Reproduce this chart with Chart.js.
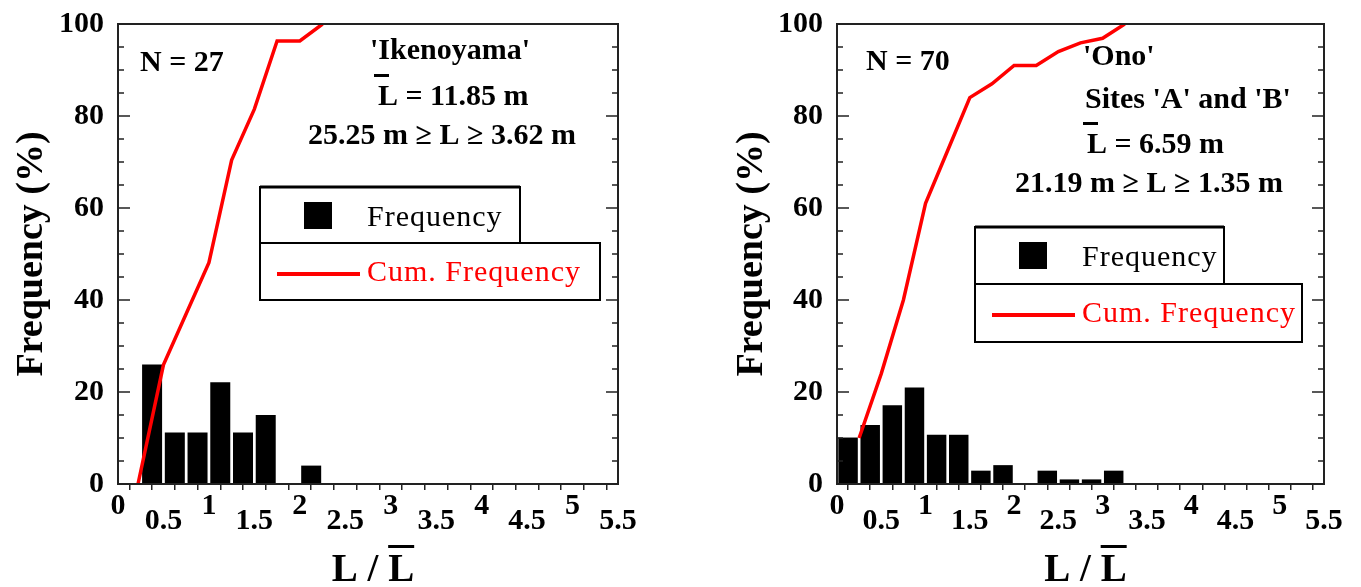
<!DOCTYPE html>
<html>
<head>
<meta charset="utf-8">
<script src="https://cdn.jsdelivr.net/npm/chart.js@4.4.0/dist/chart.umd.min.js"></script>
<style>
body { margin: 0; background: #fff; width: 1361px; height: 587px; overflow: hidden; position: relative; }
.wrap { position: absolute; top: 0; height: 587px; }
#wrapA { left: 0; width: 680px; }
#wrapB { left: 720px; width: 641px; }
</style>
</head>
<body>
<div class="wrap" id="wrapA"><canvas id="chartA"></canvas></div>
<div class="wrap" id="wrapB"><canvas id="chartB"></canvas></div>
<script>
// tick labels of the L / Lbar axis
const xTickLabels = ['0', '0.5', '1', '1.5', '2', '2.5', '3', '3.5', '4', '4.5', '5', '5.5'];

// 'Ikenoyama' - bin centres (bin width 0.25) and frequency (%)
const ikeBins = [0.375, 0.625, 0.875, 1.125, 1.375, 1.625, 2.125];
const ikeFreq = [26.0, 11.2, 11.2, 22.1, 11.2, 15.0, 4.0];
// cumulative frequency (%)
const ikeCumX = [0.22, 0.5, 0.75, 1.0, 1.25, 1.5, 1.75, 2.0, 2.25];
const ikeCumY = [0, 25.9, 37.0, 48.1, 70.4, 81.5, 96.3, 96.3, 100];

// 'Ono' sites A and B
const onoBins = [0.125, 0.375, 0.625, 0.875, 1.125, 1.375, 1.625, 1.875, 2.375, 2.625, 2.875, 3.125];
const onoFreq = [10.1, 12.8, 17.1, 21.0, 10.7, 10.7, 2.9, 4.1, 2.9, 1.0, 1.0, 2.9];
const onoCumX = [0.25, 0.5, 0.75, 1.0, 1.25, 1.5, 1.75, 2.0, 2.25, 2.5, 2.75, 3.0, 3.25];
const onoCumY = [10, 24, 40, 61, 72.5, 84, 87, 91, 91, 94, 95.9, 96.9, 100];

const SERIF = '"Liberation Serif", "Times New Roman", serif';

// texts inside each plot (canvas coordinates)
const ikeNotes = [
    { text: 'N = 27', x: 140, y: 63 },
    { text: "'Ikenoyama'", x: 370, y: 51 },
    { text: 'L = 11.85 m', x: 378, y: 97, bar: true },
    { text: '25.25 m \u2265 L \u2265 3.62 m', x: 308, y: 136 }
];
const onoNotes = [
    { text: 'N = 70', x: 146, y: 62 },
    { text: "'Ono'", x: 363, y: 57 },
    { text: "Sites 'A' and 'B'", x: 365, y: 100 },
    { text: 'L = 6.59 m', x: 367, y: 145, bar: true },
    { text: '21.19 m \u2265 L \u2265 1.35 m', x: 295, y: 184 }
];
const ikeLegend = { x: 260, y: 187, w1: 260, w2: 340, h: 56 };
const onoLegend = { x: 255, y: 227, w1: 249, w2: 327, h: 57 };

function decorPlugin(notes, lg) {
    return {
        id: 'decor',
        afterDraw(chart) {
            const ctx = chart.ctx;
            const a = chart.chartArea;
            const ys = chart.scales.y;
            ctx.save();

            // frame and inward ticks on both sides
            ctx.strokeStyle = '#222';
            ctx.lineWidth = 2;
            ctx.strokeRect(a.left, a.top, a.right - a.left, a.bottom - a.top);
            ctx.lineWidth = 1.5;
            for (let v = 0; v <= 100; v += 5) {
                const py = ys.getPixelForValue(v);
                const len = v % 20 === 0 ? 12 : 6;
                ctx.beginPath();
                ctx.moveTo(a.left, py); ctx.lineTo(a.left + len, py);
                ctx.moveTo(a.right, py); ctx.lineTo(a.right - len, py);
                ctx.stroke();
            }

            // x title  L / L(bar)
            ctx.fillStyle = '#000';
            ctx.font = 'bold 39px ' + SERIF;
            ctx.textAlign = 'left';
            ctx.textBaseline = 'alphabetic';
            const t = 'L / L';
            const tw = ctx.measureText(t).width;
            const lw = ctx.measureText('L').width;
            const tx = (a.left + a.right) / 2 + 5 - tw / 2;
            ctx.fillText(t, tx, 581);
            ctx.fillRect(tx + tw - lw, 545, lw, 3);

            // notes
            ctx.textBaseline = 'middle';
            ctx.font = 'bold 30px ' + SERIF;
            notes.forEach(n => {
                ctx.fillText(n.text, n.x, n.y);
                if (n.bar) ctx.fillRect(n.x - 4, n.y - 23, 15, 3);
            });

            // legend boxes
            ctx.strokeStyle = '#000';
            ctx.lineWidth = 2;
            ctx.strokeRect(lg.x, lg.y, lg.w1, lg.h);
            ctx.lineWidth = 3;
            ctx.beginPath(); ctx.moveTo(lg.x, lg.y); ctx.lineTo(lg.x + lg.w1, lg.y); ctx.stroke();
            ctx.lineWidth = 2;
            ctx.strokeRect(lg.x, lg.y + lg.h, lg.w2, lg.h + 1);
            ctx.fillStyle = '#000';
            ctx.fillRect(lg.x + 44, lg.y + 15, 28, 27);
            ctx.font = '30px ' + SERIF;
            ctx.letterSpacing = '1px';
            ctx.fillText('Frequency', lg.x + 107, lg.y + 31);
            ctx.strokeStyle = '#ff0000';
            ctx.lineWidth = 4;
            ctx.beginPath();
            ctx.moveTo(lg.x + 17, lg.y + lg.h + 31);
            ctx.lineTo(lg.x + 100, lg.y + lg.h + 31);
            ctx.stroke();
            ctx.fillStyle = '#ff0000';
            ctx.fillText('Cum. Frequency', lg.x + 107, lg.y + lg.h + 30);
            ctx.restore();
        }
    };
}

function makeChart(id, bins, freq, cumX, cumY, yWidth, padRight, notes, legend) {
    return new Chart(document.getElementById(id), {
        type: 'bar',
        data: {
            datasets: [{
                type: 'line',
                label: 'Cum. Frequency',
                data: cumX.map((x, i) => ({ x: x, y: cumY[i] })),
                borderColor: '#ff0000',
                borderWidth: 3.5,
                pointRadius: 0,
                tension: 0,
                order: 0
            }, {
                type: 'bar',
                label: 'Frequency',
                data: bins.map((x, i) => ({ x: x, y: freq[i] })),
                backgroundColor: '#000',
                barPercentage: 0.88,
                categoryPercentage: 1,
                order: 1
            }]
        },
        options: {
            responsive: true,
            maintainAspectRatio: false,
            animation: false,
            layout: { padding: { left: 0, top: 24, right: padRight, bottom: 0 } },
            plugins: { legend: { display: false }, tooltip: { enabled: false } },
            scales: {
                x: {
                    type: 'linear',
                    min: 0,
                    max: 5.5,
                    offset: false,
                    afterFit(s) { s.height = 103; },
                    border: { display: true, color: '#222', width: 2 },
                    grid: { display: true, drawOnChartArea: false, drawTicks: true, tickLength: 6, color: '#222', lineWidth: 1.5 },
                    ticks: {
                        stepSize: 0.25,
                        autoSkip: false,
                        maxRotation: 0,
                        padding: 9,
                        color: '#000',
                        font: { family: SERIF, weight: 'bold', size: 30, lineHeight: 0.5 },
                        callback(v) {
                            const i = Math.round(v * 2);
                            if (Math.abs(v * 2 - i) > 1e-6) return '';
                            const lab = xTickLabels[i];
                            return i % 2 === 0 ? [lab, ''] : ['', lab];
                        }
                    }
                },
                y: {
                    min: 0,
                    max: 100,
                    afterFit(s) { s.width = yWidth; },
                    border: { display: false },
                    grid: { display: false },
                    ticks: { stepSize: 20, padding: 6, color: '#000', font: { family: SERIF, weight: 'bold', size: 30 } },
                    title: {
                        display: true,
                        text: 'Frequency (%)',
                        color: '#000',
                        font: { family: SERIF, weight: 'bold', size: 38 },
                        padding: { top: 9, bottom: 0 }
                    }
                }
            }
        },
        plugins: [decorPlugin(notes, legend)]
    });
}

makeChart('chartA', ikeBins, ikeFreq, ikeCumX, ikeCumY, 118, 62, ikeNotes, ikeLegend);
makeChart('chartB', onoBins, onoFreq, onoCumX, onoCumY, 117, 37, onoNotes, onoLegend);
</script>
</body>
</html>
